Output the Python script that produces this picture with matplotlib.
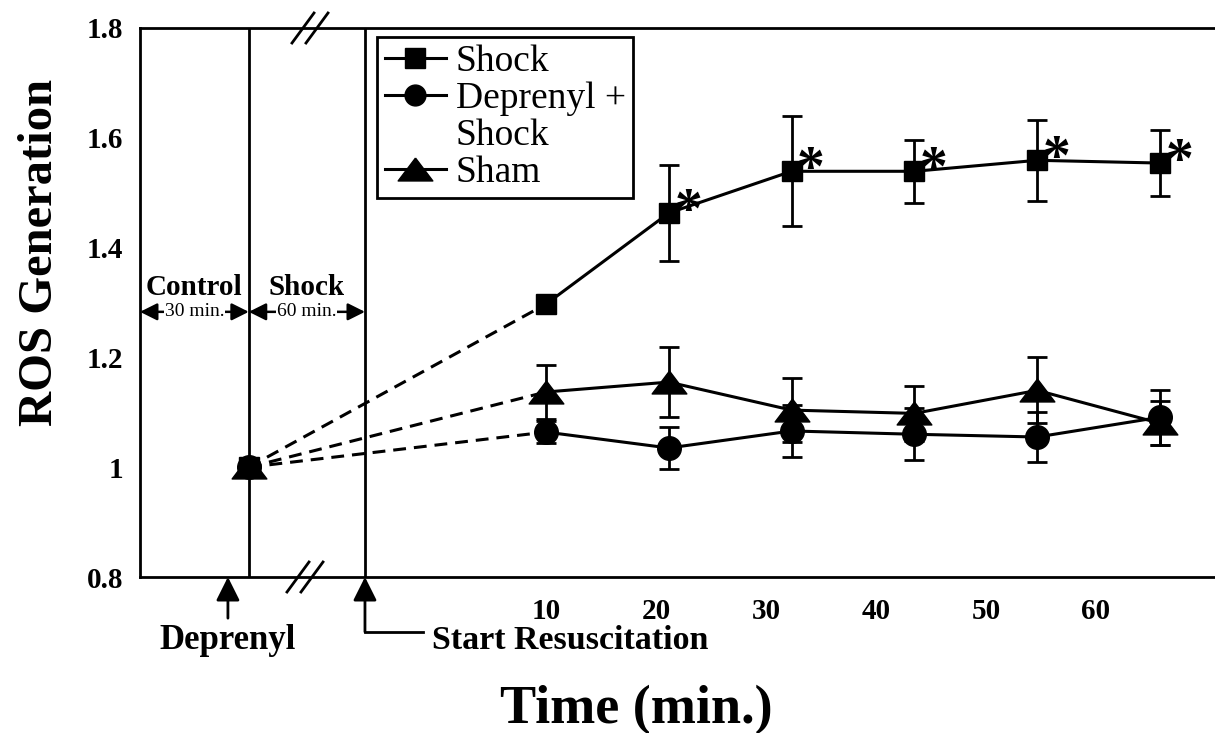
import matplotlib
matplotlib.use('Agg')
import matplotlib.pyplot as plt
from matplotlib.lines import Line2D
import matplotlib.transforms as mtransforms

plt.rcParams['font.family'] = ['Liberation Serif', 'DejaVu Serif']

# ---------------- data ----------------
times = [10, 20, 30, 40, 50, 60]
baseline_x = -14.2          # end of control period (axis units)
resus_x = -4.74             # start of resuscitation (axis units)
baseline_y = 1.0

shock = [1.297, 1.463, 1.539, 1.539, 1.559, 1.554]
shock_err = [0.01, 0.087, 0.100, 0.057, 0.074, 0.060]
dep = [1.064, 1.035, 1.066, 1.060, 1.055, 1.091]
dep_err = [0.02, 0.039, 0.048, 0.047, 0.046, 0.050]
sham = [1.137, 1.155, 1.104, 1.098, 1.140, 1.080]
sham_err = [0.05, 0.064, 0.058, 0.050, 0.060, 0.040]
significant = [False, True, True, True, True, True]

xtick_labels = ['10', '20', '30', '40', '50', '60']
xtick_pos = [10, 18.96, 27.92, 36.87, 45.83, 54.79]
ytick_vals = [0.8, 1.0, 1.2, 1.4, 1.6, 1.8]
ytick_labels = ['0.8', '1', '1.2', '1.4', '1.6', '1.8']

# ---------------- figure ----------------
fig = plt.figure(figsize=(12.15, 7.33), dpi=100)
ax = fig.add_axes([140 / 1215, 1 - 577 / 733, 1 - 140 / 1215, 549 / 733])
ax.set_xlim(-23.06, 64.48)
ax.set_ylim(0.8, 1.8)

tri = [(0, 0.66), (-1, -0.66), (1, -0.66), (0, 0.66)]
LW = 2.2
series = [
    (shock, shock_err, 's', 15),
    (dep, dep_err, 'o', 17),
    (sham, sham_err, tri, 25),
]
for vals, err, mk, ms in series:
    ax.plot([baseline_x, times[0]], [baseline_y, vals[0]], color='k', lw=LW,
            ls='--', dashes=(4.2, 2.6), zorder=2)
    ax.errorbar(times, vals, yerr=err, fmt='-', marker=mk, ms=ms, color='k',
                lw=LW, elinewidth=2, capsize=7, capthick=2, zorder=3)
    ax.plot([baseline_x], [baseline_y], marker=mk, ms=ms, color='k', ls='none',
            zorder=3)

for t, v, s in zip(times, shock, significant):
    if s:
        ax.annotate('*', (t, v), xytext=(14, -10), textcoords='offset points',
                    ha='center', va='baseline', fontsize=40, fontweight='bold')

# event lines
ax.axvline(baseline_x, color='k', lw=2)
ax.axvline(resus_x, color='k', lw=2)

# period annotations
left_x = ax.get_xlim()[0]
ax.text((left_x + baseline_x) / 2, 1.328, 'Control', ha='center', va='center',
        fontsize=21, fontweight='bold')
ax.text((baseline_x + resus_x) / 2, 1.328, 'Shock', ha='center', va='center',
        fontsize=21, fontweight='bold')
for a, b, lab in [(left_x, baseline_x, '30 min.'), (baseline_x, resus_x, '60 min.')]:
    ax.annotate('', xy=(a, 1.283), xytext=(b, 1.283),
                arrowprops=dict(arrowstyle='<|-|>', lw=1.8, color='k',
                                mutation_scale=26, shrinkA=0, shrinkB=0))
    ax.text((a + b) / 2, 1.283, lab, ha='center', va='center', fontsize=14,
            bbox=dict(facecolor='white', edgecolor='none', pad=0.5))

# below-axis annotations
trans = mtransforms.blended_transform_factory(ax.transData, ax.transAxes)
dep_x = -15.9
ax.annotate('', xy=(dep_x, 0), xycoords=trans, xytext=(dep_x, -0.075),
            textcoords=trans, annotation_clip=False,
            arrowprops=dict(arrowstyle='-|>', lw=2, color='k', mutation_scale=36,
                            shrinkA=0, shrinkB=0))
ax.text(dep_x, -0.132, 'Deprenyl', transform=trans, ha='center', va='baseline',
        fontsize=25, fontweight='bold', clip_on=False)
ax.annotate('', xy=(resus_x, 0), xycoords=trans, xytext=(resus_x, -0.1),
            textcoords=trans, annotation_clip=False,
            arrowprops=dict(arrowstyle='-|>', lw=2, color='k', mutation_scale=36,
                            shrinkA=0, shrinkB=0))
ax.add_line(Line2D([resus_x, -0.02], [-0.1, -0.1], transform=trans, color='k',
                   lw=2, clip_on=False))
ax.text(0.72, -0.132, 'Start Resuscitation', transform=trans, ha='left',
        va='baseline', fontsize=24.5, fontweight='bold', clip_on=False)

# axis breaks
def fpx(x, y):
    return x / 1215, 1 - y / 733
for cy, cxs in [(28, (303, 317)), (577, (298, 312))]:
    for cx in cxs:
        (x0, y0), (x1, y1) = fpx(cx - 11, cy + 15), fpx(cx + 11, cy - 15)
        fig.add_artist(Line2D([x0, x1], [y0, y1], transform=fig.transFigure,
                              color='k', lw=2))

# ticks / spines
ax.set_xticks(xtick_pos, xtick_labels)
ax.set_yticks(ytick_vals, ytick_labels)
ax.tick_params(axis='both', length=0, labelsize=21)
ax.tick_params(axis='x', pad=15)
ax.tick_params(axis='y', pad=12)
for lab in ax.get_xticklabels() + ax.get_yticklabels():
    lab.set_fontweight('bold')
for side in ['left', 'bottom', 'top']:
    ax.spines[side].set_linewidth(2)
ax.spines['right'].set_visible(False)

# legend
handles = [
    Line2D([], [], color='k', lw=LW, marker='s', ms=14),
    Line2D([], [], color='k', lw=LW, marker='o', ms=15),
    Line2D([], [], ls='none'),
    Line2D([], [], color='k', lw=LW, marker=tri, ms=25),
]
labels = ['Shock', 'Deprenyl +', 'Shock', 'Sham']
leg = ax.legend(handles, labels, loc='upper left',
                bbox_to_anchor=((377 - 140) / 1075, (577 - 37) / 549),
                borderaxespad=0, fontsize=27, frameon=True, fancybox=False,
                edgecolor='k', framealpha=1, handlelength=1.65,
                handletextpad=0.25, labelspacing=0.07, borderpad=0.2)
leg.get_frame().set_linewidth(2)

fig.text(0.033, 0.656, 'ROS Generation', rotation=90, ha='center', va='center',
         fontsize=35, fontweight='bold')
fig.text(0.524, 0.031, 'Time (min.)', ha='center', va='center', fontsize=39,
         fontweight='bold')

fig.savefig('out.png', dpi=100)
